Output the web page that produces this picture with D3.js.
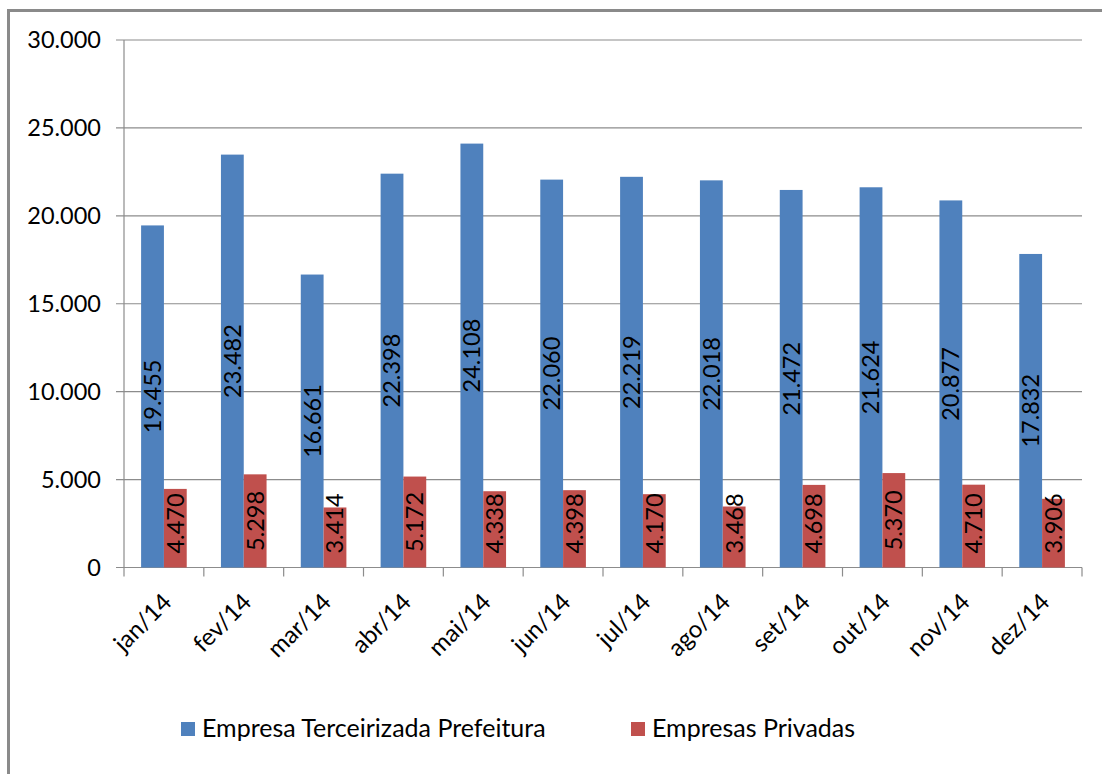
<!DOCTYPE html>
<html>
<head>
<meta charset="utf-8">
<script src="https://cdn.jsdelivr.net/npm/d3@7"></script>
<style>
  html, body { margin: 0; padding: 0; background: #fff; overflow: hidden; }
  svg { display: block; }
  text { font-family: Lato, "Open Sans", sans-serif; fill: #000; }
</style>
</head>
<body>
<div id="chart"></div>
<script>
const months = ['jan/14','fev/14','mar/14','abr/14','mai/14','jun/14','jul/14','ago/14','set/14','out/14','nov/14','dez/14']
const prefeitura = [19455, 23482, 16661, 22398, 24108, 22060, 22219, 22018, 21472, 21624, 20877, 17832]
const privadas = [4470, 5298, 3414, 5172, 4338, 4398, 4170, 3468, 4698, 5370, 4710, 3906]
const seriesNames = ['Empresa Terceirizada Prefeitura', 'Empresas Privadas']
const colors = ['#4F81BD', '#C0504D']
const yTicks = [0, 5000, 10000, 15000, 20000, 25000, 30000]

const width = 1102
const height = 774
const plot = { left: 124, right: 1082, top: 40, bottom: 567.5 }

const svg = d3.select('#chart').append('svg')
  .attr('width', width)
  .attr('height', height)

// outer frame (only top and left edges are visible)
svg.append('path')
  .attr('d', `M8.5,${height} V10.5 H${width}`)
  .attr('fill', 'none').attr('stroke', '#8a8a8a').attr('stroke-width', 3)

const fmt = d3.formatLocale({ decimal: ',', thousands: '.', grouping: [3], currency: ['', ''] }).format(',d')

const x = d3.scaleBand().domain(months).range([plot.left, plot.right])
const inner = d3.scaleBand().domain([0, 1])
  .range([0, x.bandwidth()]).paddingOuter(0.75).paddingInner(0)
const y = d3.scaleLinear().domain([0, 30000]).range([plot.bottom, plot.top])

// gridlines
svg.append('g').selectAll('line').data(yTicks).enter().append('line')
  .attr('x1', plot.left - 8).attr('x2', plot.right)
  .attr('y1', d => y(d)).attr('y2', d => y(d))
  .attr('stroke', '#8c8c8c').attr('stroke-width', 1.2)

// y labels
svg.append('g').selectAll('text').data(yTicks).enter().append('text')
  .attr('x', 101).attr('y', d => y(d))
  .attr('dy', '0.36em')
  .attr('text-anchor', 'end')
  .style('font-size', '23.5px')
  .text(d => fmt(d))

// y axis line
svg.append('line')
  .attr('x1', plot.left).attr('x2', plot.left)
  .attr('y1', plot.top).attr('y2', plot.bottom)
  .attr('stroke', '#8c8c8c').attr('stroke-width', 1.2)

// x ticks
const xTickPos = months.map(m => x(m)).concat([plot.right])
svg.append('g').selectAll('line').data(xTickPos).enter().append('line')
  .attr('x1', d => d).attr('x2', d => d)
  .attr('y1', plot.bottom).attr('y2', plot.bottom + 9)
  .attr('stroke', '#8c8c8c').attr('stroke-width', 1.2)

// bars
const seriesData = [prefeitura, privadas]
seriesData.forEach((vals, s) => {
  const g = svg.append('g')
  g.selectAll('rect').data(vals).enter().append('rect')
    .attr('x', (d, i) => x(months[i]) + inner(s))
    .attr('width', inner.bandwidth())
    .attr('y', d => y(d))
    .attr('height', d => y(0) - y(d))
    .attr('fill', colors[s])

  g.selectAll('text').data(vals).enter().append('text')
    .attr('transform', (d, i) => {
      const cx = x(months[i]) + inner(s) + inner.bandwidth() / 2
      const cy = Math.min((y(d) + y(0)) / 2, y(0) - 44)
      return `translate(${cx},${cy}) rotate(-90)`
    })
    .attr('text-anchor', 'middle')
    .attr('dy', '0.36em')
    .style('font-size', '23.5px')
    .text(d => fmt(d))
})

// x labels
svg.append('g').selectAll('text').data(months).enter().append('text')
  .attr('transform', d => `translate(${x(d) + x.bandwidth() / 2 + 3},${plot.bottom + 30}) rotate(-45)`)
  .attr('text-anchor', 'end')
  .attr('dy', '0.36em')
  .style('font-size', '24px')
  .text(d => d)

// legend
const legendX = [181, 631]
seriesNames.forEach((name, s) => {
  svg.append('rect')
    .attr('x', legendX[s]).attr('y', 722)
    .attr('width', 14).attr('height', 14)
    .attr('fill', colors[s])
  svg.append('text')
    .attr('x', legendX[s] + 21).attr('y', 737)
    .style('font-size', '25px')
    .text(name)
})
</script>
</body>
</html>
